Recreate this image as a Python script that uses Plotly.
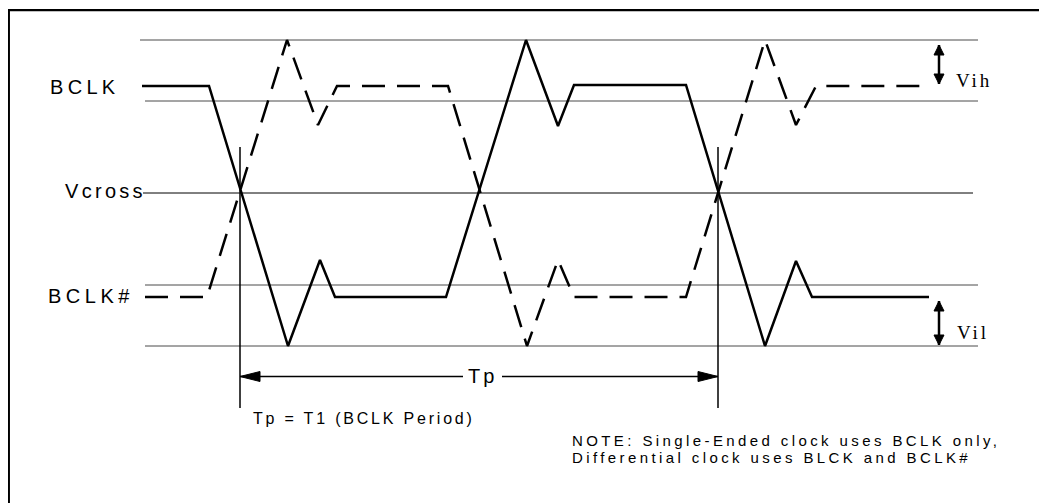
import plotly.graph_objects as go

# Page is 1047x503; the HTML body keeps its default 8px margin, so the figure
# covers page x 8..1047, y 8..503 and the axes are set up in page units.
PAGE_W, PAGE_H = 1047, 503
OFF = 8
W, H = PAGE_W - OFF, PAGE_H - OFF

# ---------------- data (diagram units: x = time, y = level, y grows downward) ----------------
# BCLK (solid)
bclk_t = [142, 209, 288, 320, 335, 446, 526, 558, 574, 686, 765, 796, 812, 929]
bclk_v = [86, 86, 346, 260, 297, 297, 40, 126, 85, 85, 346, 261, 297, 297]
# BCLK# (dashed)
bclkn_t = [145, 207, 287, 318, 337, 448, 527, 558, 574, 686, 765, 796, 816, 930]
bclkn_v = [297, 297, 40, 125, 86, 86, 346, 260, 297, 297, 40, 125, 86, 86]

# Reference levels (overshoot max, Vih, Vcross, Vil, undershoot min)
ref_levels = [40, 101, 193, 285, 346]
ref_start = [140, 145, 143, 145, 145]
ref_end = [978, 978, 973, 978, 978]

# Vcross crossing markers (period boundaries)
cross_t = [240, 718]
marker_span = [147, 408]

# Tp dimension arrow
tp_level = 376.5
tp_gap = [463, 502]

# Vih / Vil dimension arrows
vdim_x = 939
vih_span = [45, 84]
vil_span = [301, 345]

# Text labels: (text, x, y, size, letter spacing, font)
labels = [
    ("BCLK", 49, 87, 20, 4.3, "sans"),
    ("Vcross", 64, 191, 20, 3.3, "sans"),
    ("BCLK#", 47, 296, 20, 4.5, "sans"),
    ("Tp = T1 (BCLK Period)", 252, 418, 16, 2.8, "sans"),
    ("NOTE: Single-Ended clock uses BCLK only,", 571, 440, 15, 3.4, "sans"),
    ("Differential clock uses BLCK and BCLK#", 571, 457, 15, 3.4, "sans"),
    ("Vih", 955, 80, 19, 3, "serif"),
    ("Vil", 956, 332, 19, 3, "serif"),
]
tp_label = ("Tp", 482, 376, 20, 3)

# frame: only the left and top edges fall inside the page
frame_x = [8.8, 8.8, 1060]
frame_y = [520, 10.2, 10.2]

# ---------------- styling ----------------
SANS = "Liberation Sans, Arial, sans-serif"
SERIF = "Liberation Serif, Times New Roman, serif"
INK = "#000000"
REF = "#4a4a4a"

fig = go.Figure()

def add_line(xs, ys, width=1, color=INK, dash="solid"):
    fig.add_trace(go.Scatter(x=xs, y=ys, mode="lines",
                             line=dict(color=color, width=width, dash=dash),
                             hoverinfo="skip", showlegend=False))

def add_head(tip_x, tip_y, dx, dy, length, half):
    # dx, dy: unit direction the arrow points to
    bx, by = tip_x - dx * length, tip_y - dy * length
    px, py = -dy, dx
    xs = [tip_x, bx + px * half, bx - px * half, tip_x]
    ys = [tip_y, by + py * half, by - py * half, tip_y]
    fig.add_trace(go.Scatter(x=xs, y=ys, mode="lines", fill="toself",
                             fillcolor=INK, line=dict(color=INK, width=1),
                             hoverinfo="skip", showlegend=False))

# frame
add_line(frame_x, frame_y, width=2.3)

# reference level lines
for lv, x0, x1 in zip(ref_levels, ref_start, ref_end):
    add_line([x0, x1], [lv, lv], width=1, color=REF if lv != ref_levels[2] else INK)

# crossing markers
for t in cross_t:
    add_line([t, t], marker_span, width=1.5)

# waveforms
add_line(bclkn_t, bclkn_v, width=2.5, dash="23px,12px")
add_line(bclk_t, bclk_v, width=2.5)

# Tp arrow
add_line([cross_t[0], tp_gap[0]], [tp_level, tp_level], width=1.3)
add_line([tp_gap[1], cross_t[1]], [tp_level, tp_level], width=1.3)
add_head(cross_t[0], tp_level, -1, 0, 20, 5)
add_head(cross_t[1], tp_level, 1, 0, 20, 5)

# Vih / Vil arrows
for span in (vih_span, vil_span):
    add_line([vdim_x, vdim_x], span, width=2.5)
    add_head(vdim_x, span[0], 0, -1, 10, 5)
    add_head(vdim_x, span[1], 0, 1, 10, 5)

def styled(txt, s):
    return f'<span style="letter-spacing:{s}px">{txt}</span>'

for txt, x, y, size, s, fam in labels:
    fig.add_annotation(x=x, y=y, xref="x", yref="y", text=styled(txt, s),
                       showarrow=False, xanchor="left", yanchor="middle",
                       borderpad=0,
                       font=dict(family=SANS if fam == "sans" else SERIF, size=size, color=INK))

txt, x, y, size, s = tp_label
fig.add_annotation(x=x, y=y, xref="x", yref="y", text=styled(txt, s),
                   showarrow=False, xanchor="center", yanchor="middle", borderpad=0,
                   font=dict(family=SANS, size=size, color=INK))

fig.update_layout(
    width=W, height=H,
    margin=dict(l=0, r=0, t=0, b=0),
    paper_bgcolor="white", plot_bgcolor="white",
    xaxis=dict(range=[OFF, PAGE_W], visible=False, fixedrange=True),
    yaxis=dict(range=[PAGE_H, OFF], visible=False, fixedrange=True),
    showlegend=False,
)

fig.write_html("out.html", config={"displayModeBar": False})
